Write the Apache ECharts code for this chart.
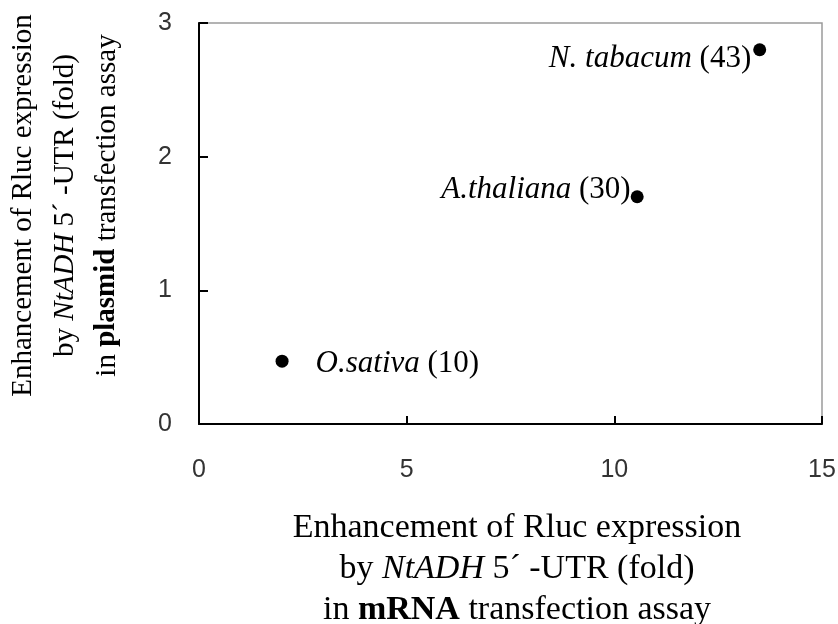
<!DOCTYPE html>
<html>
<head>
<meta charset="utf-8">
<script src="https://cdn.jsdelivr.net/npm/echarts@6/dist/echarts.min.js"></script>
<style>html,body{margin:0;padding:0;background:#fff;}#chart{width:838px;height:624px;}</style>
</head>
<body>
<div id="chart"></div>
<script>
const speciesNames = ['O.sativa', 'A.thaliana', 'N. tabacum'];
const speciesCounts = [10, 30, 43];
const mrnaFold = [2.0, 10.55, 13.5];
const plasmidFold = [0.47, 1.70, 2.80];
const xTicks = [0, 5, 10, 15];
const yTicks = [0, 1, 2, 3];

const labelStyles = [
  { position: 'right', distance: 27, offset: [0, 3] },
  { position: 'left', distance: 0, offset: [0, -7] },
  { position: 'left', distance: 2, offset: [0, 9] }
];

const serif = 'Liberation Serif';
const rich = {
  i: { fontFamily: serif, fontStyle: 'italic', fontSize: 31, color: '#000' },
  n: { fontFamily: serif, fontSize: 31, color: '#000' }
};

const data = speciesNames.map((n, k) => ({
  value: [mrnaFold[k], plasmidFold[k]],
  label: Object.assign({
    show: true,
    formatter: '{i|' + n + '}{n| (' + speciesCounts[k] + ')}',
    rich: rich
  }, labelStyles[k])
}));

const chart = echarts.init(document.getElementById('chart'));
chart.setOption({
  animation: false,
  grid: { left: 199, right: 16, top: 23, bottom: 200, show: true, borderColor: '#9a9a9a', borderWidth: 1.5, containLabel: false, outerBoundsMode: 'none' },
  xAxis: {
    type: 'value', min: xTicks[0], max: xTicks[xTicks.length - 1], interval: 5,
    axisLine: { show: true, onZero: false, lineStyle: { color: '#000', width: 2 } },
    axisTick: { show: true, inside: true, length: 8, lineStyle: { color: '#000', width: 2 } },
    splitLine: { show: false },
    axisLabel: { fontFamily: 'Liberation Sans', fontSize: 25, color: '#333', margin: 34 },
    name: 'Enhancement of Rluc expression\n{n|by }{i|NtADH}{n| 5´ -UTR (fold)}\n{n|in }{b|mRNA}{n| transfection assay}',
    nameLocation: 'middle',
    nameGap: 84,
    nameTextStyle: {
      fontFamily: serif, fontSize: 34, color: '#000', lineHeight: 41, padding: [0, 0, 0, 13],
      rich: {
        n: { fontFamily: serif, fontSize: 34, color: '#000', lineHeight: 41 },
        i: { fontFamily: serif, fontSize: 34, fontStyle: 'italic', color: '#000', lineHeight: 41 },
        b: { fontFamily: serif, fontSize: 34, fontWeight: 'bold', color: '#000', lineHeight: 41 }
      }
    }
  },
  yAxis: {
    type: 'value', min: yTicks[0], max: yTicks[yTicks.length - 1], interval: 1,
    axisLine: { show: true, onZero: false, lineStyle: { color: '#000', width: 2 } },
    axisTick: { show: true, inside: true, length: 9, lineStyle: { color: '#000', width: 2 } },
    splitLine: { show: false },
    axisLabel: { fontFamily: 'Liberation Sans', fontSize: 25, color: '#333', margin: 27, padding: [6, 0, 0, 0] },
    name: 'Enhancement of Rluc expression\n{n|by }{i|NtADH}{n| 5´ -UTR (fold)}\n{n|in }{b|plasmid}{n| transfection assay}',
    nameLocation: 'middle',
    nameGap: 71,
    nameTextStyle: {
      fontFamily: serif, fontSize: 29, color: '#000', lineHeight: 42, padding: [0, 0, 0, 36],
      rich: {
        n: { fontFamily: serif, fontSize: 29, color: '#000', lineHeight: 42 },
        i: { fontFamily: serif, fontSize: 29, fontStyle: 'italic', color: '#000', lineHeight: 42 },
        b: { fontFamily: serif, fontSize: 29, fontWeight: 'bold', color: '#000', lineHeight: 42 }
      }
    }
  },
  series: [{
    type: 'scatter',
    symbol: 'circle',
    symbolSize: 13,
    itemStyle: { color: '#000', opacity: 1 },
    data: data
  }]
});
</script>
</body>
</html>
